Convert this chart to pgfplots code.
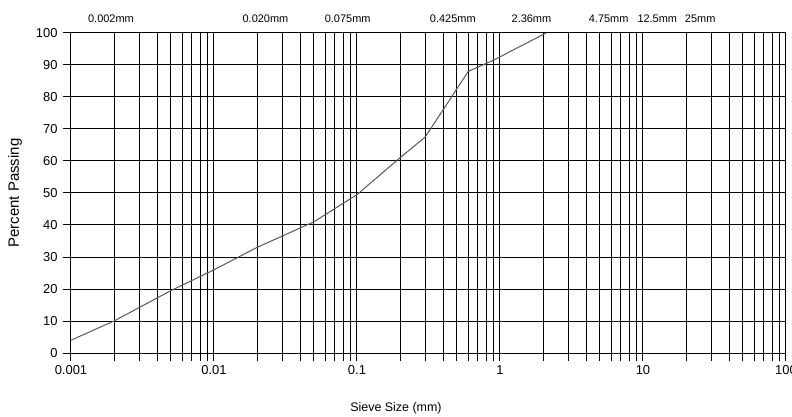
\documentclass[border=0pt]{standalone}
\usepackage{pgfplots}
\pgfplotsset{compat=1.18}
\usepackage{fontspec}
\setmainfont{Liberation Sans}
\begin{document}
\begin{tikzpicture}
\useasboundingbox (-71bp,-64bp) rectangle (721bp,353bp);
\fill[white] (-71bp,-64bp) rectangle (721bp,353bp);
\begin{axis}[
  at={(0,0)}, anchor=south west,
  scale only axis, width=715bp, height=320bp,
  xmode=log, log basis x=10,
  xmin=0.001, xmax=100, ymin=0, ymax=100,
  xtick={0.001,0.01,0.1,1,10,100},
  xticklabels={0.001,0.01,0.1,1,10,100},
  minor xtick={0.002,0.003,0.004,0.005,0.006,0.007,0.008,0.009,
               0.02,0.03,0.04,0.05,0.06,0.07,0.08,0.09,
               0.2,0.3,0.4,0.5,0.6,0.7,0.8,0.9,
               2,3,4,5,6,7,8,9,
               20,30,40,50,60,70,80,90},
  ytick={0,10,...,100},
  xtick pos=bottom, ytick pos=left,
  tick align=outside,
  major tick length=8bp, minor tick length=8bp,
  every tick/.style={black, line width=1bp},
  xmajorgrids=true, xminorgrids=true, ymajorgrids=true,
  major grid style={black, line width=1bp},
  minor grid style={black, line width=1bp},
  axis line style={black, line width=1bp},
  /pgf/number format/assume math mode=true,
  tick label style={font=\fontsize{13}{15}\selectfont},
  yticklabel style={xshift=-2bp},
  xticklabel style={yshift=-1bp},
  xlabel={Sieve Size (mm)},
  ylabel={Percent Passing},
  xlabel style={font=\fontsize{12.5}{14}\selectfont, at={(axis description cs:0.4545,-0.172)}, anchor=center},
  ylabel style={font=\fontsize{15}{17}\selectfont, at={(axis description cs:-0.0783,0.5)}, anchor=center},
  clip=false,
]
\addplot[color=black!65, line width=1bp] coordinates {
  (0.001,4) (0.002,10) (0.005,19.5) (0.01,26) (0.02,33) (0.05,41)
  (0.1,49.5) (0.2,61) (0.3,67.5) (0.4,76) (0.6,88) (0.9,91.5) (2.1,100)
};
\begin{scope}[every node/.style={font=\fontsize{11}{12}\selectfont, anchor=center, inner sep=0pt}]
\node at (axis description cs:0.0559,1.045) {0.002mm};
\node at (axis description cs:0.272,1.045) {0.020mm};
\node at (axis description cs:0.387,1.045) {0.075mm};
\node at (axis description cs:0.534,1.045) {0.425mm};
\node at (axis description cs:0.644,1.045) {2.36mm};
\node at (axis description cs:0.752,1.045) {4.75mm};
\node at (axis description cs:0.820,1.045) {12.5mm};
\node at (axis description cs:0.880,1.045) {25mm};
\end{scope}
\end{axis}
\end{tikzpicture}
\end{document}
